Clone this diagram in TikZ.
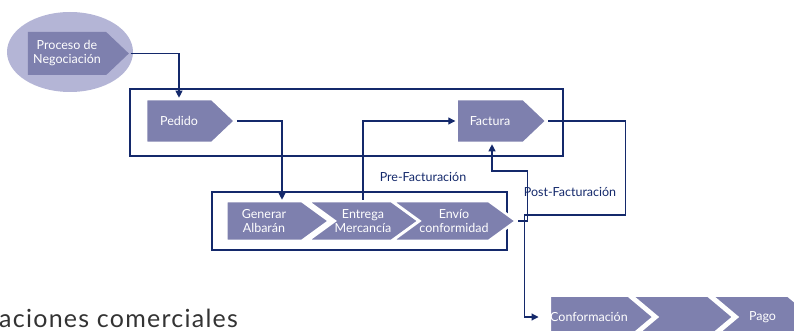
\documentclass[tikz,border=0pt]{standalone}
\usepackage{fontspec}
\setmainfont{Lato}
\usetikzlibrary{shapes.symbols,shapes.geometric,arrows.meta}
\definecolor{navy}{HTML}{14296B}
\definecolor{lila}{HTML}{7E80AE}
\definecolor{halo}{HTML}{B4B5D6}
\tikzset{>={Triangle[length=7pt,width=7pt]},
  chev/.style={shape=signal, signal to=east, signal pointer angle=87, fill=lila,
    draw=white, line width=2.6pt, text=white, align=center, inner sep=0pt,
    minimum height=43pt, font=\fontsize{12.5}{14}\selectfont},
  notched/.style={chev, signal from=west},
  flow/.style={navy, line width=1.1pt, ->},
  frame/.style={draw=navy, line width=2.6pt},
  lbl/.style={text=navy, font=\fontsize{12.5}{14}\selectfont}}

\begin{document}
\begin{tikzpicture}[x=1pt,y=-1pt]
    \useasboundingbox (0,0) rectangle (794,331);
    \node[ellipse, fill=halo, minimum width=126pt, minimum height=80pt] (neg) at (70,52) {};
    \node[chev, draw=none, minimum width=101pt] (proc) at (67,53.5) {Proceso de\\Negociación};
    \draw[frame] (130,89) rectangle (563,156);
    \node[chev, minimum width=89pt, minimum height=44pt] (ped) at (179,121) {Pedido};
    \node[chev, minimum width=90pt, minimum height=44pt] (fac) at (490,121) {Factura};
    \draw[frame] (212,192) rectangle (507,250);
    \node[chev, minimum width=103pt, minimum height=40pt, signal pointer angle=72] (gen) at (264,221) {Generar\\Albarán};
    \node[notched, minimum width=111pt, minimum height=40pt, signal pointer angle=72] (ent) at (363,221) {Entrega\\Mercancía};
    \node[notched, minimum width=104pt, minimum height=40pt, signal pointer angle=72] (env) at (454,221) {Envío\\conformidad};
    \node[chev, minimum width=104pt, signal pointer angle=80] (conf) at (589,317) {Conformación};
    \node[notched, minimum width=102pt, signal pointer angle=80] (rev) at (682.5,317) {};
    \node[notched, minimum width=102pt, signal pointer angle=80] (pago) at (762.5,317) {Pago};
    \node[lbl] (pre) at (423,177) {Pre-Facturación};
    \node[lbl] (post) at (570,192) {Post-Facturación};
    \node[anchor=base west, inner sep=0pt, font=\fontsize{25}{30}\selectfont\addfontfeatures{LetterSpace=5}, text=black!80] (tit) at (-1,327) {aciones comerciales};
    % conectores
    \draw[flow] (proc.east) -| (ped.north);
    \draw[flow] (ped.east) -| ([xshift=18pt]gen.north);
    \draw[flow] (ent.north) |- (fac.west);
    \draw[flow] (env.east) -- ++(9,0) -- ++(0,-50) -| ([xshift=2pt]fac.south);
    \draw[flow, shorten >=10pt] (fac.east) -- ++(77,0) -- ++(0,94) -- ++(-101,0) |- (conf.west);
\end{tikzpicture}
\end{document}
